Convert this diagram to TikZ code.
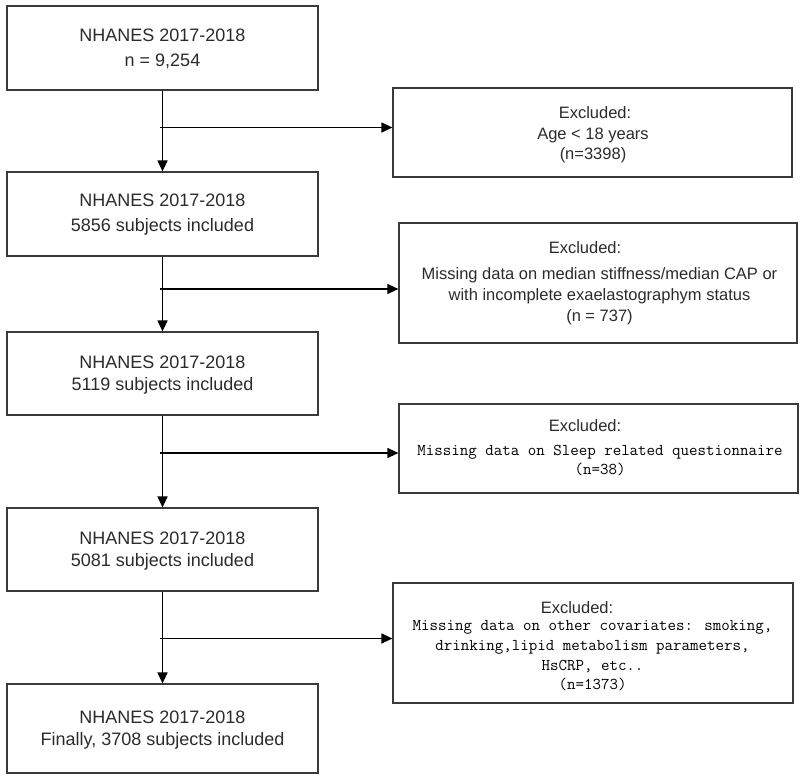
\documentclass[tikz,border=0pt]{standalone}
\usepackage{fontspec}
\setmainfont{Liberation Sans}
\usetikzlibrary{arrows.meta}
\definecolor{ink}{HTML}{2B2B2B}
\definecolor{boxline}{HTML}{3A3A3A}
\begin{document}
\begin{tikzpicture}[x=1pt,y=-1pt,
  lbox/.style={draw=boxline, line width=1.2pt, minimum width=311pt, inner sep=0pt},
  rbox/.style={draw=boxline, line width=1.2pt, inner sep=0pt},
  ltext/.style={anchor=base, inner sep=0pt, text=ink, font=\fontsize{18}{22}\selectfont},
  stext/.style={anchor=base, inner sep=0pt, text=ink, font=\fontsize{16.5}{20}\selectfont},
  mtext/.style={anchor=base, inner sep=0pt, text=black, font=\ttfamily\fontsize{16.5}{20}\selectfont},
  conn/.style={draw=black, line width=1.2pt, -{Triangle[length=11pt,width=10pt]}}
]
\useasboundingbox (0,0) rectangle (800,777);

% left column
\node[lbox, minimum height=84pt] (b1) at (162.5,48) {};
\node[ltext] (b1t1) at (162.5,41.5) {NHANES 2017-2018};
\node[ltext] (b1t2) at (162.5,66.5) {n = 9,254};

\node[lbox, minimum height=84pt] (b2) at (162.5,214) {};
\node[ltext] (b2t1) at (162.5,206.5) {NHANES 2017-2018};
\node[ltext] (b2t2) at (162.5,231.5) {5856 subjects included};

\node[lbox, minimum height=83pt] (b3) at (162.5,373.5) {};
\node[ltext] (b3t1) at (162.5,368.5) {NHANES 2017-2018};
\node[ltext] (b3t2) at (162.5,390.5) {5119 subjects included};

\node[lbox, minimum height=83pt] (b4) at (162.5,549.5) {};
\node[ltext] (b4t1) at (162.5,544.5) {NHANES 2017-2018};
\node[ltext] (b4t2) at (162.5,566.5) {5081 subjects included};

\node[lbox, minimum height=89pt] (b5) at (162.5,728.5) {};
\node[ltext] (b5t1) at (162.5,723.5) {NHANES 2017-2018};
\node[ltext] (b5t2) at (162.5,745.5) {Finally, 3708 subjects included};

% right column
\node[rbox, minimum width=399pt, minimum height=89pt] (eA) at (592.5,132.5) {};
\node[stext] (eAt1) at (595,118) {Excluded:};
\node[stext] (eAt2) at (593,139) {Age < 18 years};
\node[stext] (eAt3) at (593,159) {(n=3398)};

\node[rbox, minimum width=398pt, minimum height=120pt] (eB) at (598,283) {};
\node[stext] (eBt1) at (585,253) {Excluded:};
\node[stext] (eBt2) at (599.5,279) {Missing data on median stiffness/median CAP or};
\node[stext] (eBt3) at (599.5,300) {with incomplete exaelastographym status};
\node[stext] (eBt4) at (599.5,321) {(n = 737)};

\node[rbox, minimum width=399pt, minimum height=89pt] (eC) at (598.5,448.5) {};
\node[stext] (eCt1) at (585,431) {Excluded:};
\node[mtext] (eCt2) at (600,455) {Missing data on Sleep related questionnaire};
\node[mtext] (eCt3) at (600,474.5) {(n=38)};

\node[rbox, minimum width=400pt, minimum height=120pt] (eD) at (593,643) {};
\node[stext] (eDt1) at (577,613) {Excluded:};
\node[mtext] (eDt2) at (592.5,630) {Missing data on other covariates: smoking,};
\node[mtext] (eDt3) at (592.5,650) {drinking,lipid metabolism parameters,};
\node[mtext] (eDt4) at (592.5,670) {HsCRP, etc..};
\node[mtext] (eDt5) at (592.5,689.5) {(n=1373)};

% vertical connectors
\draw[conn] (b1.south) -- (b2.north);
\draw[conn] (b2.south) -- (b3.north);
\draw[conn] (b3.south) -- (b4.north);
\draw[conn] (b4.south) -- (b5.north);

% branches
\coordinate (j1) at (160,127.5);
\coordinate (j2) at (160,289);
\coordinate (j3) at (160,453);
\coordinate (j4) at (160,638.5);
\draw[conn] (j1) -- (j1 -| eA.west);
\draw[conn] (j2) -- (j2 -| eB.west);
\draw[conn] (j3) -- (j3 -| eC.west);
\draw[conn] (j4) -- (j4 -| eD.west);
\end{tikzpicture}
\end{document}
